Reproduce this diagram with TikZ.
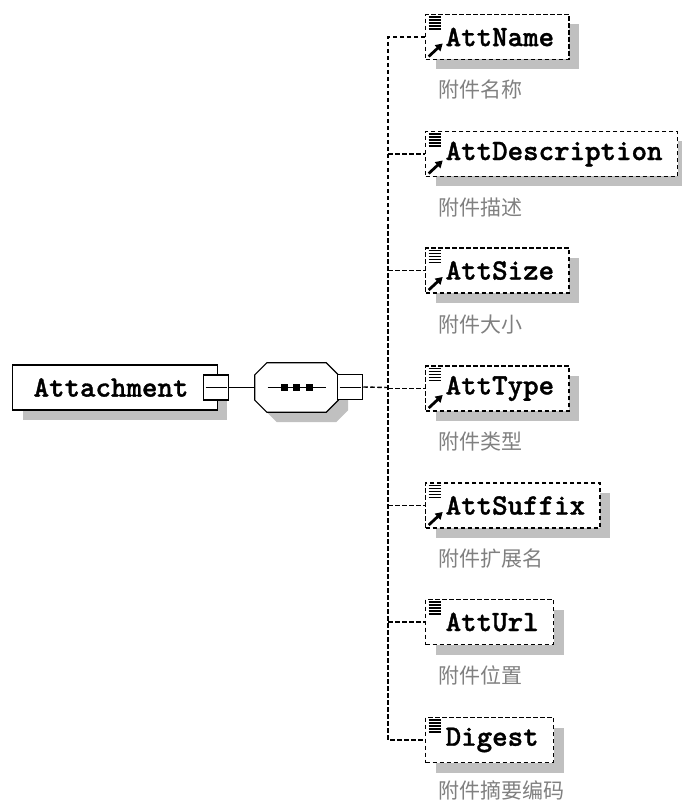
\documentclass[tikz,border=0pt]{standalone}
\usepackage{fontspec}
\setmonofont{lmmonolt10-regular.otf}[BoldFont=lmmonolt10-bold.otf,BoldFeatures={FakeBold=1.2}]
\newfontfamily\cjk{Noto Sans CJK SC}
\usetikzlibrary{shadows,arrows.meta}
\definecolor{shadowgray}{RGB}{192,192,192}
\definecolor{notegray}{RGB}{128,128,128}
\tikzset{
  boxshadow/.style={general shadow={fill=shadowgray,shadow xshift=10pt,shadow yshift=-10pt}},
  collapse/.style={draw,line width=1.5pt,fill=white,minimum size=25pt,inner sep=0pt,
    path picture={\draw[line width=1pt] ([xshift=2pt]path picture bounding box.west) -- ([xshift=-2pt]path picture bounding box.east);}},
  listicon/.style={path picture={
    \foreach \k in {0,...,4}
      \draw[solid,line width=1.2pt] ([xshift=3pt,yshift={-(2.5+3*\k)*1pt}]path picture bounding box.north west) -- ++(12,0);}},
  refarrow/.style={path picture={
    \foreach \k in {0,...,4}
      \draw[solid,line width=1.2pt] ([xshift=3pt,yshift={-(2.5+3*\k)*1pt}]path picture bounding box.north west) -- ++(12,0);
    \draw[solid,line width=2.8pt,-{Triangle[length=7pt,width=8pt]}]
      ([xshift=3pt,yshift=3pt]path picture bounding box.south west) -- ++(14,-13);}},
  conn/.style={dash pattern=on 4.5pt off 2.5pt,line width=1.4pt},
}
\begin{document}
\begin{tikzpicture}[x=1pt,y=-1pt]
\useasboundingbox (0,0) rectangle (681,802);

% root element and sequence
\node[draw,line width=1.2pt,fill=white,boxshadow,anchor=west,minimum height=45pt,inner ysep=0pt,
  inner xsep=21pt,font=\ttfamily\bfseries\fontsize{29.5}{29.5}\selectfont,
  execute at end node={\hspace*{8pt}}] (att) at (12,387.5) {Attachment};
\node[collapse] (attcollapse) at (216,387.5) {};
\node[minimum width=83pt,minimum height=49pt,inner sep=0pt] (sequence) at (296.5,387.5) {};
\draw[line width=1.2pt,fill=white,boxshadow]
  ([xshift=12pt]sequence.north west) -- ([xshift=-12pt]sequence.north east)
  -- ([yshift=-12pt]sequence.north east) -- ([yshift=12pt]sequence.south east)
  -- ([xshift=-12pt]sequence.south east) -- ([xshift=12pt]sequence.south west)
  -- ([yshift=12pt]sequence.south west) -- ([yshift=-12pt]sequence.north west) -- cycle;
\node[collapse] (seqcollapse) at (350,387) {};
\coordinate (trunk) at (388,387.5);

\draw[line width=1.2pt] ([xshift=-29pt]sequence.center) -- ([xshift=29pt]sequence.center);
\fill ([xshift=-16pt,yshift=3.5pt]sequence.center) rectangle ++(7,7);
\fill ([xshift=-3.5pt,yshift=3.5pt]sequence.center) rectangle ++(7,7);
\fill ([xshift=9pt,yshift=3.5pt]sequence.center) rectangle ++(7,7);

\draw[line width=1.2pt] (attcollapse.east) -- (sequence.west);
\draw[conn] (seqcollapse.east) -- (trunk);

% child elements
\begin{scope}[every node/.style={draw,conn,fill=white,boxshadow,anchor=west,minimum height=45pt,
    inner ysep=0pt,inner xsep=15pt,font=\ttfamily\bfseries\fontsize{29.5}{29.5}\selectfont,
    execute at begin node={\hspace*{5pt}}}]
  \node[refarrow] (attname) at (425,37) {AttName};
  \node[refarrow] (attdesc) at (425,154) {AttDescription};
  \node[refarrow] (attsize) at (425,270.5) {AttSize};
  \node[refarrow] (atttype) at (425,388.5) {AttType};
  \node[refarrow] (attsuffix) at (425,505.5) {AttSuffix};
  \node[listicon] (atturl) at (425,622) {AttUrl};
  \node[listicon] (digest) at (425,740) {Digest};
\end{scope}

% annotations
\begin{scope}[every node/.style={anchor=west,inner sep=0pt,text=notegray,font=\cjk\fontsize{21}{21}\selectfont}]
  \node (noteattname) at (438,90) {附件名称};
  \node (noteattdesc) at (438,207.5) {附件描述};
  \node (noteattsize) at (438,324.5) {附件大小};
  \node (noteatttype) at (438,441.5) {附件类型};
  \node (noteattsuffix) at (438,559) {附件扩展名};
  \node (noteatturl) at (438,675.5) {附件位置};
  \node (notedigest) at (438,790) {附件摘要编码};
\end{scope}

\draw[conn] (attname.west) -| (trunk) |- (digest.west);
\draw[conn] (trunk |- attdesc.west) -- (attdesc.west);
\draw[conn] (trunk |- attsize.west) -- (attsize.west);
\draw[conn] (trunk |- atttype.west) -- (atttype.west);
\draw[conn] (trunk |- attsuffix.west) -- (attsuffix.west);
\draw[conn] (trunk |- atturl.west) -- (atturl.west);
\end{tikzpicture}
\end{document}
